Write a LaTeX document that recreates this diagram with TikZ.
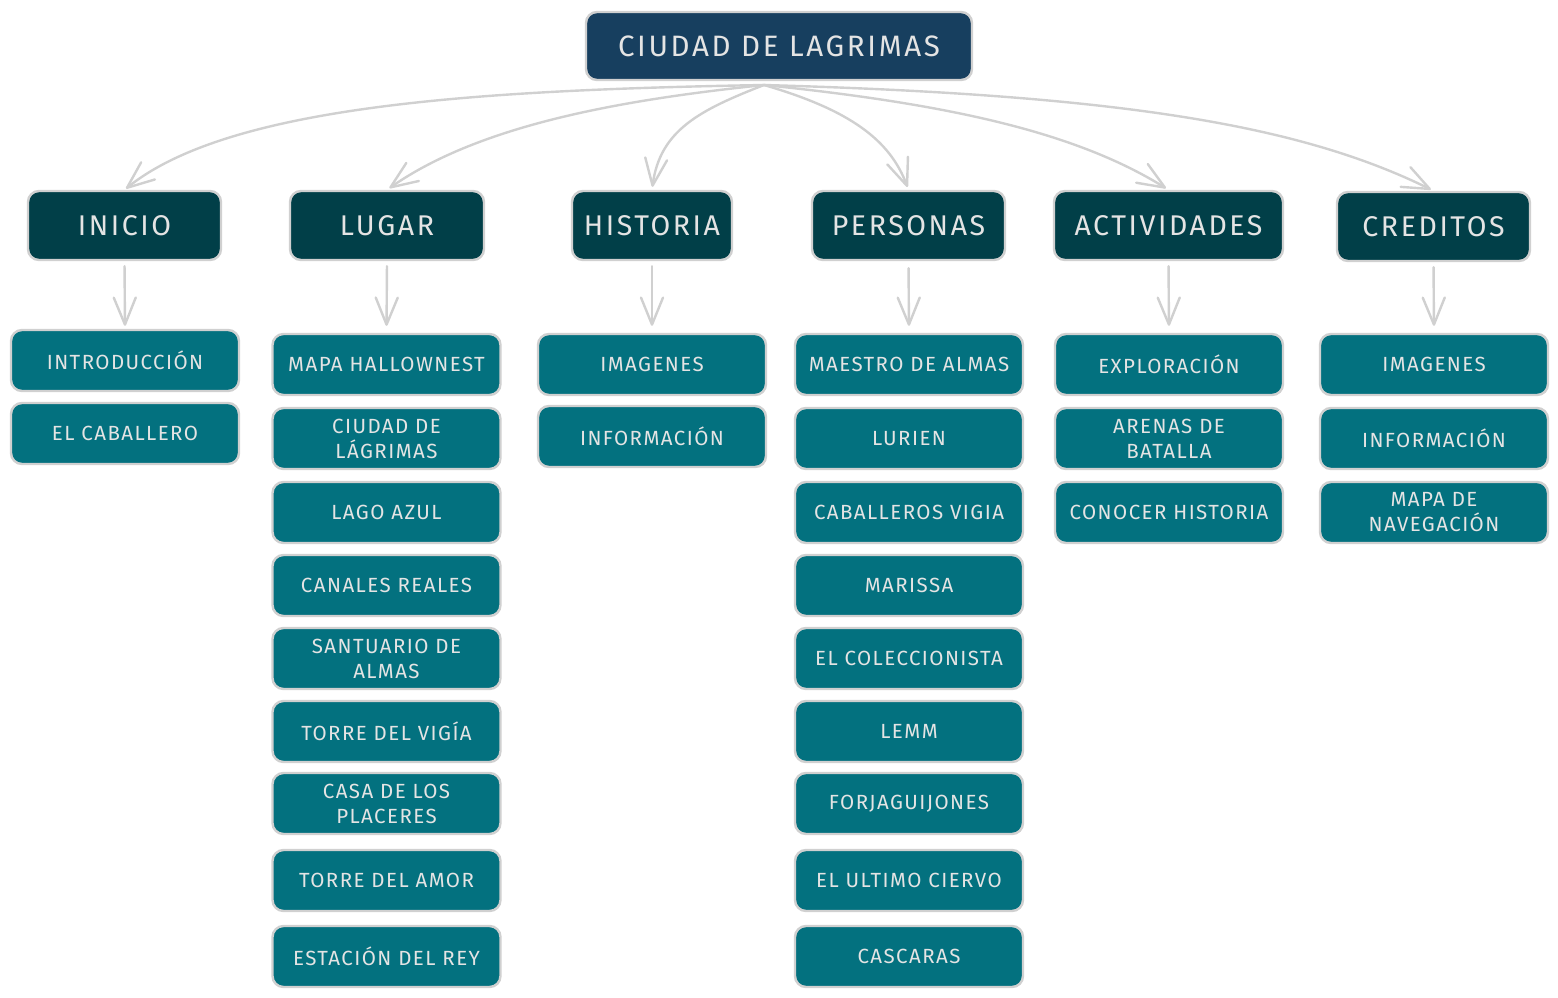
\documentclass[tikz,border=0pt]{standalone}
\usepackage{fontspec}
\setmainfont{Fira Sans}
\newfontfamily\handfont[LetterSpace=7]{Fira Sans}
\newfontfamily\handbig[LetterSpace=9]{Fira Sans}
\usetikzlibrary{arrows.meta}
\definecolor{topfill}{HTML}{173F5F}
\definecolor{midfill}{HTML}{013F48}
\definecolor{leaffill}{HTML}{03717F}
\definecolor{edge}{HTML}{D0D0D0}
\definecolor{txt}{HTML}{E4E4E4}
\tikzset{
  x=1pt,y=-1pt,
  boxbase/.style={draw=edge,line width=2.4pt,rounded corners=11pt,text=txt,align=center,inner sep=2pt},
  topbox/.style={boxbase,fill=topfill,minimum width=386pt,minimum height=68pt,font=\handbig\fontsize{29.5}{34}\selectfont},
  midbox/.style={boxbase,fill=midfill,minimum height=69pt,font=\handbig\fontsize{28.5}{33}\selectfont},
  leafbox/.style={boxbase,fill=leaffill,minimum width=228pt,minimum height=61pt,font=\handfont\fontsize{20.5}{25}\selectfont},
  conn/.style={draw=edge,line width=2.4pt,line cap=round,-{Straight Barb[length=27pt,width=22pt,line width=2.4pt,round]}},
}
\begin{document}
\begin{tikzpicture}
\useasboundingbox (0,0) rectangle (1558,998);
% top
\node[topbox] (top) at (779,46) {CIUDAD DE LAGRIMAS};
\coordinate (o) at (764,85);
% level 1
\node[midbox,minimum width=193pt] (inicio) at (124.5,225.5) {INICIO};
\node[midbox,minimum width=194pt] (lugar) at (387,225.5) {LUGAR};
\node[midbox,minimum width=160pt] (historia) at (652,225.5) {HISTORIA};
\node[midbox,minimum width=193pt] (personas) at (908.5,225.5) {PERSONAS};
\node[midbox,minimum width=229pt] (actividades) at (1168.5,225.5) {ACTIVIDADES};
\node[midbox,minimum width=193pt] (creditos) at (1433.5,226.5) {CREDITOS};
% inicio leaves
\node[leafbox] (i1) at (125,360.5) {INTRODUCCIÓN};
\node[leafbox] (i2) at (125,433.5) {EL CABALLERO};
% lugar leaves
\node[leafbox] (l1) at (386.5,364.5) {MAPA HALLOWNEST};
\node[leafbox] (l2) at (386.5,438.5) {CIUDAD DE\\LÁGRIMAS};
\node[leafbox] (l3) at (386.5,512.5) {LAGO AZUL};
\node[leafbox] (l4) at (386.5,585.5) {CANALES REALES};
\node[leafbox] (l5) at (386.5,658.5) {SANTUARIO DE\\ALMAS};
\node[leafbox] (l6) at (386.5,731.5) {TORRE DEL VIGÍA};
\node[leafbox] (l7) at (386.5,803.5) {CASA DE LOS\\PLACERES};
\node[leafbox] (l8) at (386.5,880.5) {TORRE DEL AMOR};
\node[leafbox] (l9) at (386.5,956.5) {ESTACIÓN DEL REY};
% historia leaves
\node[leafbox] (h1) at (652,364.5) {IMAGENES};
\node[leafbox] (h2) at (652,436.5) {INFORMACIÓN};
% personas leaves
\node[leafbox] (p1) at (909,364.5) {MAESTRO DE ALMAS};
\node[leafbox] (p2) at (909,438.5) {LURIEN};
\node[leafbox] (p3) at (909,512.5) {CABALLEROS VIGIA};
\node[leafbox] (p4) at (909,585.5) {MARISSA};
\node[leafbox] (p5) at (909,658.5) {EL COLECCIONISTA};
\node[leafbox] (p6) at (909,731.5) {LEMM};
\node[leafbox] (p7) at (909,803.5) {FORJAGUIJONES};
\node[leafbox] (p8) at (909,880.5) {EL ULTIMO CIERVO};
\node[leafbox] (p9) at (909,956.5) {CASCARAS};
% actividades leaves
\node[leafbox] (a1) at (1169,364.5) {EXPLORACIÓN};
\node[leafbox] (a2) at (1169,438.5) {ARENAS DE\\BATALLA};
\node[leafbox] (a3) at (1169,512.5) {CONOCER HISTORIA};
% creditos leaves
\node[leafbox] (c1) at (1434,364.5) {IMAGENES};
\node[leafbox] (c2) at (1434,438.5) {INFORMACIÓN};
\node[leafbox] (c3) at (1434,512.5) {MAPA DE\\NAVEGACIÓN};
% top connectors
\draw[conn,shorten >=2pt] (o) .. controls (480,90) and (230,105) .. (inicio.north);
\draw[conn,shorten >=3pt] (o) .. controls (620,100) and (480,125) .. (lugar.north);
\draw[conn,shorten >=3pt] (o) .. controls (700,110) and (660,130) .. (historia.north);
\draw[conn,shorten >=3pt] (o) .. controls (850,110) and (890,140) .. (personas.north);
\draw[conn,shorten >=3pt] (o) .. controls (960,105) and (1080,135) .. (actividades.north);
\draw[conn,shorten >=3pt] (o) .. controls (1120,95) and (1300,125) .. (creditos.north);
% level-1 to leaf connectors
\draw[conn,shorten <=5pt,shorten >=3pt] (inicio.south) -- (i1.north);
\draw[conn,shorten <=5pt,shorten >=7pt] (lugar.south) -- (l1.north);
\draw[conn,shorten <=5pt,shorten >=7pt] (historia.south) -- (h1.north);
\draw[conn,shorten <=7pt,shorten >=7pt] (personas.south) -- (p1.north);
\draw[conn,shorten <=5pt,shorten >=7pt] (actividades.south) -- (a1.north);
\draw[conn,shorten <=5pt,shorten >=7pt] (creditos.south) -- (c1.north);
\end{tikzpicture}
\end{document}
